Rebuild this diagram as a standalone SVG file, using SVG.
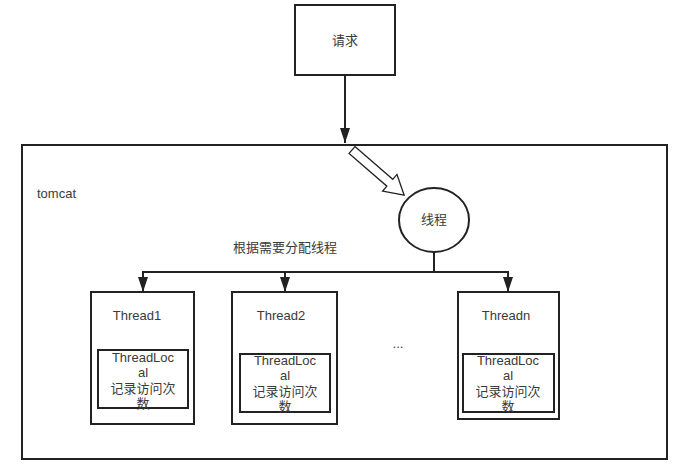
<svg xmlns="http://www.w3.org/2000/svg" width="679" height="467" viewBox="0 0 679 467">
<defs>
<style>
.box{fill:#fff;stroke:#222;stroke-width:2}
.ln{fill:none;stroke:#222;stroke-width:2}
text{font-family:"Liberation Sans","Noto Sans CJK SC",sans-serif;font-size:13px;fill:#3a3a3a}
.c{text-anchor:middle;dominant-baseline:central}
</style>
<marker id="ahb" viewBox="0 0 15 10" refX="15" refY="5" markerWidth="15" markerHeight="10" markerUnits="userSpaceOnUse" orient="auto">
<path d="M0,0 L15,5 L0,10 Z" fill="#222"/>
</marker>
</defs>
<rect width="679" height="467" fill="#fff"/>
<g id="tomcat">
<rect class="box" x="22" y="145" width="645" height="314"/>
<text x="37" y="193" dominant-baseline="central">tomcat</text>
</g>
<g id="request">
<rect class="box" x="295" y="5" width="100" height="70"/>
<text class="c" x="345" y="40">请求</text>
</g>
<g id="thread-circle">
<ellipse class="box" cx="434" cy="220" rx="35" ry="32"/>
<text class="c" x="434" y="219">线程</text>
</g>
<g id="thread1">
<rect class="box" x="91" y="292" width="103" height="132"/>
<text class="c" x="137" y="315">Thread1</text>
<rect class="box" x="98" y="350" width="90" height="58"/>
<text class="c" x="143" y="357">ThreadLoc</text>
<text class="c" x="143" y="372.5">al</text>
<text class="c" x="143" y="388">记录访问次</text>
<text class="c" x="143" y="403.5">数</text>
</g>
<g id="thread2">
<rect class="box" x="232" y="292" width="105" height="132"/>
<text class="c" x="281" y="315">Thread2</text>
<rect class="box" x="240" y="354" width="90" height="58"/>
<text class="c" x="285" y="360">ThreadLoc</text>
<text class="c" x="285" y="375.5">al</text>
<text class="c" x="285" y="391">记录访问次</text>
<text class="c" x="285" y="406.5">数</text>
</g>
<g id="dots">
<text class="c" x="398" y="343">...</text>
</g>
<g id="threadn">
<rect class="box" x="458" y="292" width="101" height="127"/>
<text class="c" x="506" y="315">Threadn</text>
<rect class="box" x="463" y="354" width="91" height="58"/>
<text class="c" x="508" y="360">ThreadLoc</text>
<text class="c" x="508" y="375.5">al</text>
<text class="c" x="508" y="391">记录访问次</text>
<text class="c" x="508" y="406.5">数</text>
</g>
<g id="connectors">
<line class="ln" x1="345" y1="75" x2="345" y2="143" marker-end="url(#ahb)"/>
<polygon transform="translate(352,150) rotate(40.9)" points="0,-4.5 50,-4.5 50,-11 69,0 50,11 50,4.5 0,4.5" fill="#fff" stroke="#222" stroke-width="1.3"/>
<polyline class="ln" points="434,252 434,272"/>
<polyline class="ln" points="143,272 508,272"/>
<line class="ln" x1="143" y1="271" x2="143" y2="292" marker-end="url(#ahb)"/>
<line class="ln" x1="285" y1="271" x2="285" y2="292" marker-end="url(#ahb)"/>
<line class="ln" x1="508" y1="271" x2="508" y2="292" marker-end="url(#ahb)"/>
<text class="c" x="285" y="247">根据需要分配线程</text>
</g>
</svg>
